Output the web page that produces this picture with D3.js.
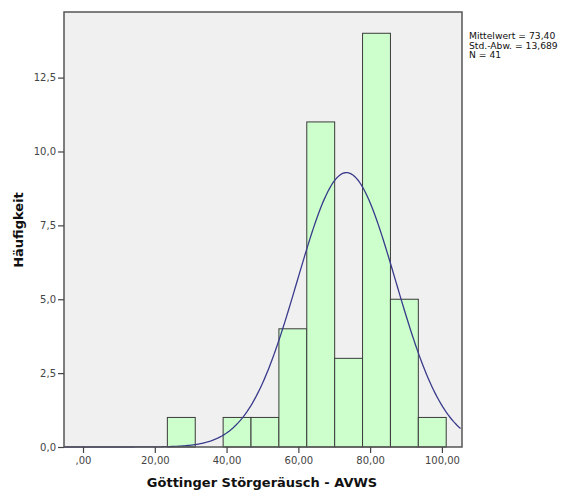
<!DOCTYPE html>
<html>
<head>
<meta charset="utf-8">
<script src="https://cdn.jsdelivr.net/npm/d3@7"></script>
<style>
  body { margin: 0; background: #fff; }
  svg text { font-family: "DejaVu Sans", sans-serif; }
</style>
</head>
<body>
<svg id="chart" width="575" height="493"></svg>
<script>
'use strict'
// histogram counts, bins start at 23.5, width 7.77
const binStart = 23.5
const binWidth = 7.77
const counts = [1, 0, 1, 1, 4, 11, 3, 14, 5, 1]
const xTicks = [0, 20, 40, 60, 80, 100]
const yTicks = [0, 2.5, 5, 7.5, 10, 12.5]
const stats = { mean: 73.40, sd: 13.689, n: 41 }
const statLines = ['Mittelwert = 73,40', 'Std.-Abw. = 13,689', 'N = 41']

const margin = { top: 12, left: 64, right: 113, bottom: 46 },
    width = 575 - margin.left - margin.right,
    height = 493 - margin.top - margin.bottom

const svg = d3.select('#chart')
const g = svg.append('g').attr('transform', 'translate(' + margin.left + ',' + margin.top + ')')

const x = d3.scaleLinear().domain([-5.3, 105.6]).range([0, width])
const y = d3.scaleLinear().domain([0, 14.72]).range([height, 0])

const fmt = d => d3.format('.1f')(d).replace('.', ',')
const fmtX = d => (d === 0 ? ',00' : d3.format('.2f')(d).replace('.', ','))

// plot background
g.append('rect')
  .attr('width', width).attr('height', height)
  .attr('fill', '#f0f0f0')

const bins = counts.map((c, i) => ({ x0: binStart + i * binWidth, x1: binStart + (i + 1) * binWidth, c }))

g.selectAll('rect.bar')
  .data(bins.filter(d => d.c > 0))
  .enter().append('rect')
  .attr('class', 'bar')
  .attr('x', d => x(d.x0))
  .attr('width', d => x(d.x1) - x(d.x0))
  .attr('y', d => y(d.c))
  .attr('height', d => y(0) - y(d.c))
  .attr('fill', '#ccffcc')
  .attr('stroke', '#3a3a3a')
  .attr('stroke-width', 1)

// normal curve from the shown statistics
const curvePts = d3.range(-5.3, 105.7, 0.5).map(v => {
  const z = (v - stats.mean) / stats.sd
  return [v, stats.n * binWidth / (stats.sd * Math.sqrt(2 * Math.PI)) * Math.exp(-0.5 * z * z)]
})
g.append('path')
  .datum(curvePts)
  .attr('fill', 'none')
  .attr('stroke', '#3a3a8c')
  .attr('stroke-width', 1.3)
  .attr('d', d3.line().x(d => x(d[0])).y(d => y(d[1])))

// frame
g.append('rect')
  .attr('width', width).attr('height', height)
  .attr('fill', 'none')
  .attr('stroke', '#555')
  .attr('stroke-width', 1.5)

const xAxis = g.append('g')
  .attr('transform', 'translate(0,' + height + ')')
  .call(d3.axisBottom(x).tickValues(xTicks).tickFormat(fmtX).tickSize(6).tickPadding(4))
const yAxis = g.append('g')
  .call(d3.axisLeft(y).tickValues(yTicks).tickFormat(fmt).tickSize(6).tickPadding(2))

;[xAxis, yAxis].forEach(a => {
  a.select('.domain').remove()
  a.selectAll('line').attr('stroke', '#444').attr('stroke-width', 1.2)
  a.selectAll('text').attr('fill', '#444').style('font-size', '10px')
})

svg.append('text')
  .attr('x', 262).attr('y', 487)
  .attr('text-anchor', 'middle')
  .style('font-size', '13px').style('font-weight', 'bold')
  .attr('fill', '#111')
  .text('Göttinger Störgeräusch - AVWS')

svg.append('text')
  .attr('transform', 'translate(23,230) rotate(-90)')
  .attr('text-anchor', 'middle')
  .style('font-size', '13px').style('font-weight', 'bold')
  .attr('fill', '#111')
  .text('Häufigkeit')

svg.append('g')
  .selectAll('text')
  .data(statLines)
  .enter().append('text')
  .attr('x', 469)
  .attr('y', (d, i) => 39 + i * 9.5)
  .style('font-size', '9.2px')
  .attr('fill', '#111')
  .text(d => d)
</script>
</body>
</html>
